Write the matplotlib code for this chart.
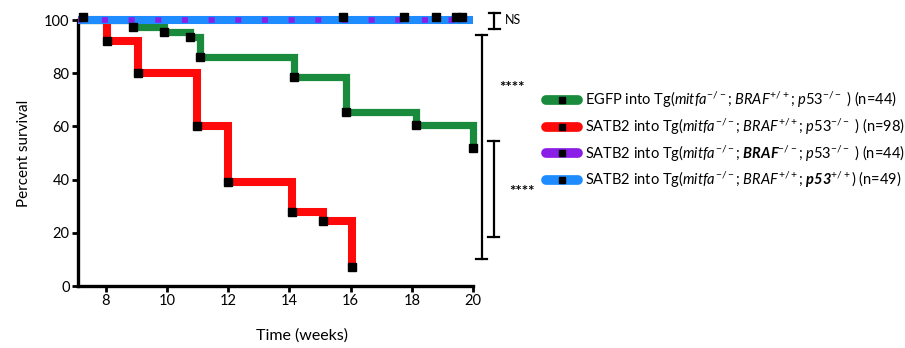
import matplotlib
matplotlib.use("Agg")
import matplotlib.pyplot as plt
from matplotlib.lines import Line2D

plt.rcParams['font.family'] = ['Lato', 'DejaVu Sans']
plt.rcParams['mathtext.fontset'] = 'custom'
plt.rcParams['mathtext.rm'] = 'Lato'
plt.rcParams['mathtext.it'] = 'Lato:italic'
plt.rcParams['mathtext.bf'] = 'Lato:bold'
plt.rcParams['mathtext.bfit'] = 'Lato:italic:bold'

# ---- data ----
green_t = [7.1, 8.9, 9.9, 10.75, 11.1, 14.15, 15.85, 18.15, 20.0]
green_s = [100, 97.5, 95.5, 93.5, 86, 78.5, 65.5, 60.5, 52]
red_t = [7.1, 8.05, 9.05, 11.0, 12.0, 14.1, 15.1, 16.05]
red_s = [100, 92, 80, 60, 39, 28, 24.5, 7]
purple_t = [7.1, 19.7]
purple_s = [100, 100]
blue_t = [7.1, 20.0]
blue_s = [100, 100]
blue_cens_t = [7.25, 15.75, 17.75, 18.8, 19.45, 19.65]
blue_cens_s = [101, 101, 101, 101, 101, 101]

labels = [
    r"EGFP into Tg($\mathit{mitfa}^{-/-}$; $\mathit{BRAF}^{+/+}$; $\mathit{p53}^{-/-}$ ) (n=44)",
    r"SATB2 into Tg($\mathit{mitfa}^{-/-}$; $\mathit{BRAF}^{+/+}$; $\mathit{p53}^{-/-}$ ) (n=98)",
    r"SATB2 into Tg($\mathit{mitfa}^{-/-}$; $\mathbfit{BRAF}^{-/-}$; $\mathit{p53}^{-/-}$ ) (n=44)",
    r"SATB2 into Tg($\mathit{mitfa}^{-/-}$; $\mathit{BRAF}^{+/+}$; $\mathbfit{p53}^{+/+}$) (n=49)",
]
colors = ['#1a8a3c', '#ff0a0a', '#8a1ee6', '#1e8cff']

fig = plt.figure(figsize=(9.05, 3.48), dpi=100)
ax = fig.add_axes([78/905, 1-286/348, (473-78)/905, (286-20)/348])
ax.set_xlim(7.1, 20)
ax.set_ylim(0, 100)

ax.step(green_t, green_s, where='post', color=colors[0], lw=5.2,
        solid_joinstyle='miter', solid_capstyle='butt', clip_on=False, zorder=2)
ax.plot(green_t[1:], green_s[1:], 's', color='black', ms=5.5, clip_on=False, zorder=5)
ax.step(red_t, red_s, where='post', color=colors[1], lw=5.8,
        solid_joinstyle='miter', solid_capstyle='butt', clip_on=False, zorder=2)
ax.plot(red_t[1:], red_s[1:], 's', color='black', ms=5.5, clip_on=False, zorder=5)
ax.plot(blue_t, blue_s, color=colors[3], lw=5.8, solid_capstyle='butt',
        clip_on=False, zorder=3)
ax.plot(purple_t, purple_s, color=colors[2], lw=4.0, linestyle=(0.5, (1.1, 3.7)),
        dash_capstyle='butt', clip_on=False, zorder=4)
ax.plot(blue_cens_t, blue_cens_s, 's', color='black', ms=5.5, clip_on=False, zorder=5)

for s in ['top', 'right']:
    ax.spines[s].set_visible(False)
for s in ['left', 'bottom']:
    ax.spines[s].set_linewidth(2.4)
ax.set_xticks([8, 10, 12, 14, 16, 18, 20])
ax.set_yticks([0, 20, 40, 60, 80, 100])
ax.tick_params(width=2, length=4, labelsize=10.5, pad=2)
ax.set_xlabel('Time (weeks)', fontsize=11.5)
ax.xaxis.set_label_coords((302-78)/(473-78), -0.16)
ax.set_ylabel('Percent survival', fontsize=11)
ax.yaxis.set_label_coords(-0.12, 0.5)

# significance brackets
def bracket(x, y0, y1, hw):
    ax.plot([x, x], [y0, y1], color='black', lw=1.6, clip_on=False)
    ax.plot([x-hw, x+hw], [y0, y0], color='black', lw=1.6, clip_on=False)
    ax.plot([x-hw, x+hw], [y1, y1], color='black', lw=1.6, clip_on=False)

bracket(20.7, 96.6, 102.6, 0.17)
ax.text(21.05, 100, 'NS', fontsize=9, va='center', ha='left', clip_on=False)
bracket(20.28, 10.2, 94.4, 0.17)
ax.text(20.85, 74.5, '****', fontsize=11, fontweight='bold', va='center', ha='left', clip_on=False)
bracket(20.67, 18.4, 54.5, 0.17)
ax.text(21.2, 35.5, '****', fontsize=11, fontweight='bold', va='center', ha='left', clip_on=False)

handles = [Line2D([0], [0], color=c, lw=7, solid_capstyle='round',
                  marker='s', mfc='black', mec='black', ms=5) for c in colors]
fig.legend(handles, labels, loc='center left', bbox_to_anchor=(540/905, 1-140/348),
           frameon=False, fontsize=10.5, handlelength=2.2, handletextpad=0.5,
           labelspacing=0.45, borderaxespad=0)

fig.savefig('out.png', dpi=100)
